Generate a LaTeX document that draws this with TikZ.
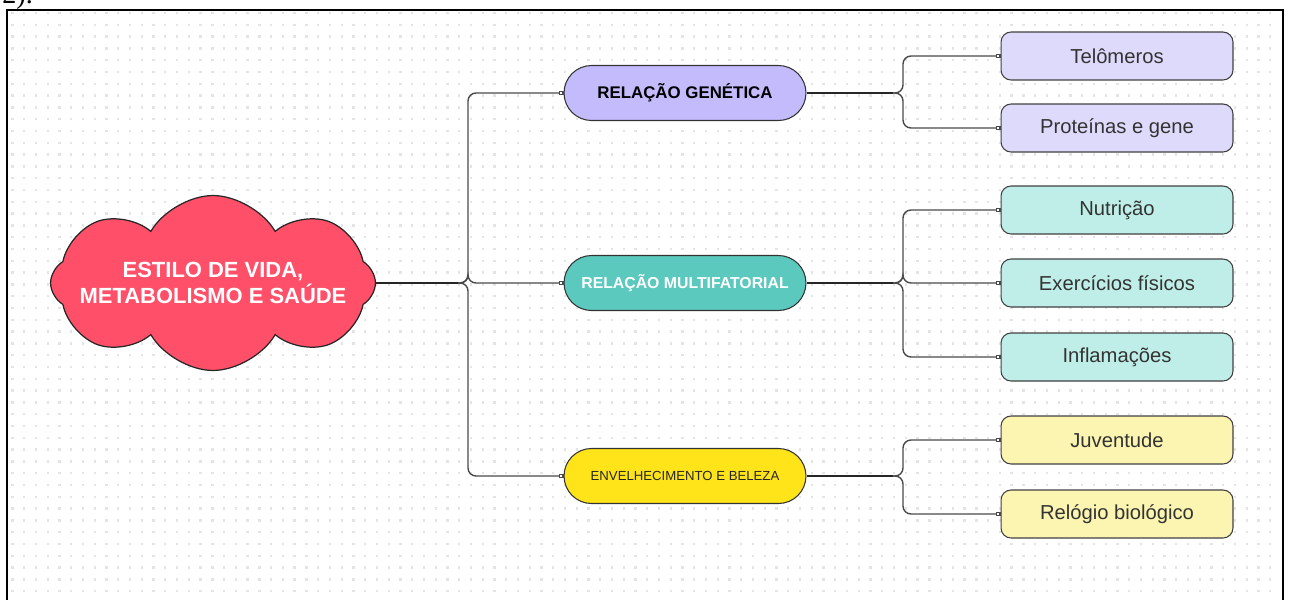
\documentclass[tikz,border=0pt]{standalone}
\usepackage{fontspec}
\setmainfont{Liberation Sans}
\newfontfamily\numfont{Liberation Serif}
\usepackage{tikz}
\usetikzlibrary{arrows.meta,positioning,shapes.symbols,backgrounds}
\definecolor{cloudred}{HTML}{FF4F69}
\definecolor{genmid}{HTML}{C4BBFD}
\definecolor{genleaf}{HTML}{DEDAFB}
\definecolor{multmid}{HTML}{5BC9BD}
\definecolor{multleaf}{HTML}{BFEEE8}
\definecolor{envmid}{HTML}{FFE41A}
\definecolor{envleaf}{HTML}{FBF5B1}
\definecolor{linegray}{HTML}{4A4A4A}
\definecolor{dotgray}{HTML}{E4E4E4}

\begin{document}
\begin{tikzpicture}[x=0.02cm,y=-0.02cm,
  mid/.style={draw=black!80,line width=0.6pt,rounded corners=0.55cm,
    minimum width=4.84cm,minimum height=1.1cm,inner sep=0pt},
  leaf/.style={draw=black!75,line width=0.6pt,rounded corners=0.2cm,
    minimum width=4.64cm,minimum height=0.96cm,inner sep=0pt,
    text=black!80,font=\fontsize{11.5}{13}\selectfont},
  trunk/.style={draw=black!85,line width=1.1pt},
  link/.style={draw=linegray,line width=0.8pt,rounded corners=0.16cm,
    -{Square[fill=white,length=2.6pt,width=2.6pt]}}]
\useasboundingbox (0,0) rectangle (1289,599);
\clip (0,0) rectangle (1289,599);

\draw[line width=1.3pt] (7,640) -- (7,10) -- (1283,10) -- (1283,640);
\node[anchor=base west,inner sep=0pt,font=\numfont\fontsize{16}{16}\selectfont] (num) at (2,3) {2).};

% central idea
\node[cloud,cloud puffs=8,cloud puff arc=120,cloud ignores aspect,
  draw=black!85,line width=0.7pt,fill=cloudred,
  minimum width=6.5cm,minimum height=3.5cm] (root) at (213,283) {};
\node[text=white,align=center,font=\bfseries\fontsize{12.5}{15}\selectfont] (roottext) at (root.center)
  {ESTILO DE VIDA,\\METABOLISMO E SAÚDE};

% second level
\node[mid,fill=genmid,font=\bfseries\fontsize{9.6}{11}\selectfont] (gen) at (685,93) {RELAÇÃO GENÉTICA};
\node[mid,fill=multmid,text=white,font=\bfseries\fontsize{9}{11}\selectfont] (mult) at (685,283) {RELAÇÃO MULTIFATORIAL};
\node[mid,fill=envmid,text=black!85,font=\fontsize{7.5}{9}\selectfont] (env) at (685,476) {ENVELHECIMENTO E BELEZA};

% leaves
\foreach \n/\y/\t/\c in {tel/56/Telômeros/genleaf, prot/128/Proteínas e gene/genleaf,
    nutr/210/Nutrição/multleaf, exer/283/Exercícios físicos/multleaf, infl/357/Inflamações/multleaf,
    juv/440/Juventude/envleaf, rel/514/Relógio biológico/envleaf}
  \node[leaf,fill=\c] (\n) at (1117,\y) {\t};

% connectors
\coordinate (root-fork) at (468,283);
\coordinate (root-stem) at (458,283);
\begin{scope}[on background layer]
  % dotted canvas
  \foreach \gy in {13,24.8,...,599}
    \draw[dotgray,line width=1.3pt,dash pattern=on 1.3pt off 5.39pt] (11.4,\gy) -- (1280,\gy);
  \draw[trunk] (root.center) -- (root-stem);
\end{scope}
\foreach \m in {gen,mult,env}
  \draw[link] (root-stem) -- (root-fork) |- (\m.west);

\foreach \m/\y in {gen/93,mult/283,env/476} {
  \coordinate (\m-fork) at (903,\y);
  \coordinate (\m-stem) at (893,\y);
  \draw[trunk] (\m.east) -- (\m-stem);
}
\foreach \m/\n in {gen/tel,gen/prot,mult/nutr,mult/exer,mult/infl,env/juv,env/rel}
  \draw[link] (\m-stem) -- (\m-fork) |- (\n.west);
\end{tikzpicture}
\end{document}
